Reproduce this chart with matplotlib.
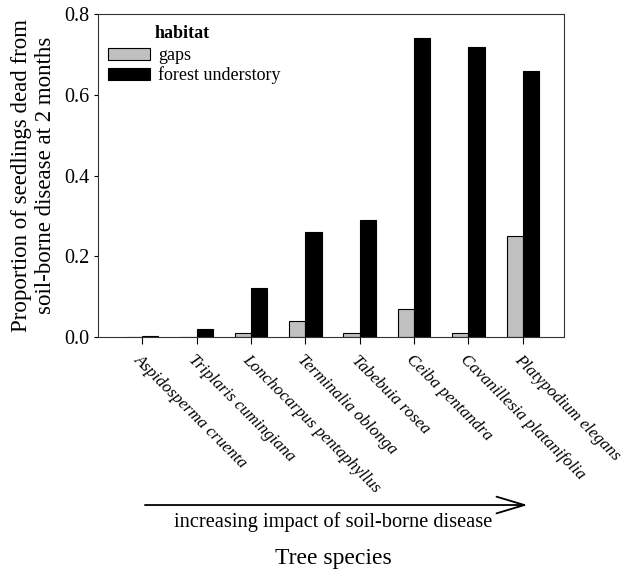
import matplotlib
matplotlib.use('Agg')
import matplotlib.pyplot as plt
import numpy as np

species = ['Aspidosperma cruenta', 'Triplaris cumingiana', 'Lonchocarpus pentaphyllus',
           'Terminalia oblonga', 'Tabebuia rosea', 'Ceiba pentandra',
           'Cavanillesia platanifolia', 'Platypodium elegans']
gaps = [0.0, 0.0, 0.01, 0.04, 0.01, 0.07, 0.01, 0.25]
forest = [0.003, 0.02, 0.12, 0.26, 0.29, 0.74, 0.72, 0.66]
yticks = [0.0, 0.2, 0.4, 0.6, 0.8]

plt.rcParams['font.family'] = 'Liberation Serif'

fig = plt.figure(figsize=(6.29, 5.7), dpi=100)
ax = fig.add_axes([0.156, 0.409, 0.741, 0.566])

x = np.arange(len(species))
w = 0.3
ax.bar(x - w / 2, gaps, w, color='#c0c0c0', edgecolor='black', linewidth=0.8, label='gaps')
ax.bar(x + w / 2, forest, w, color='black', edgecolor='black', linewidth=0.8, label='forest understory')

ax.set_xlim(-0.81, 7.76)
ax.set_ylim(0, 0.8)
ax.set_yticks(yticks)
ax.set_yticklabels(['%.1f' % v for v in yticks], fontsize=14.5)
ax.set_xticks(x)
ax.set_xticklabels(species, rotation=-45, ha='left', va='top', rotation_mode='anchor',
                   fontsize=12.2, style='italic')
ax.tick_params(direction='out', length=5, width=0.8)
ax.tick_params(axis='y', length=3, pad=3)
ax.tick_params(axis='x', pad=6)
for s in ax.spines.values():
    s.set_linewidth(0.8)
    s.set_color('#333333')

ax.set_ylabel('Proportion of seedlings dead from\nsoil-borne disease at 2 months', fontsize=16.5,
              labelpad=6, linespacing=1.2)

leg = ax.legend(loc='upper left', bbox_to_anchor=(-0.005, 0.937), frameon=False, fontsize=13,
                handlelength=2.3, handleheight=0.7, borderaxespad=0.3,
                labelspacing=0.12, handletextpad=0.45)
ax.text(0.122, 0.94, 'habitat', transform=ax.transAxes, ha='left', va='center',
        fontsize=13, fontweight='bold')

fig.text(0.53, 0.085, 'increasing impact of soil-borne disease', ha='center', va='center', fontsize=14.7)
fig.text(0.53, 0.021, 'Tree species', ha='center', va='center', fontsize=17)
fig.patches.append(matplotlib.patches.FancyArrowPatch(
    (0.226, 0.114), (0.843, 0.114), transform=fig.transFigure,
    arrowstyle='->,head_length=20,head_width=6', mutation_scale=1, linewidth=1.3, color='black'))

fig.savefig('out.png', dpi=100)
